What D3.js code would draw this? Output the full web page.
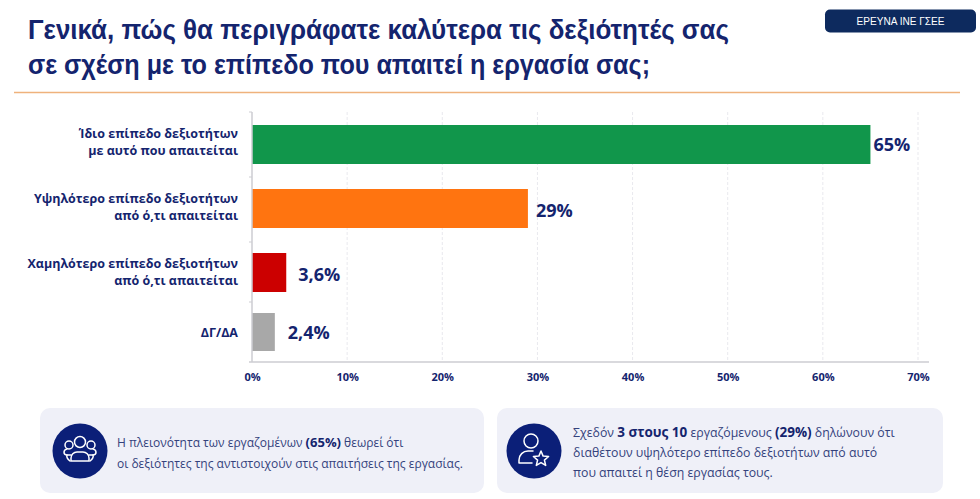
<!DOCTYPE html>
<html lang="el">
<head>
<meta charset="utf-8">
<script src="https://cdn.jsdelivr.net/npm/d3@7"></script>
<style>
html,body{margin:0;padding:0;background:#fff}
svg{display:block}
text{font-family:"Open Sans","Noto Sans",sans-serif}
.title,.badge{font-family:"Liberation Sans",Arial,sans-serif}
</style>
</head>
<body>
<svg id="chart" width="980" height="499"></svg>
<script>
const categories = [
  ["Ίδιο επίπεδο δεξιοτήτων", "με αυτό που απαιτείται"],
  ["Υψηλότερο επίπεδο δεξιοτήτων", "από ό,τι απαιτείται"],
  ["Χαμηλότερο επίπεδο δεξιοτήτων", "από ό,τι απαιτείται"],
  ["ΔΓ/ΔΑ"]
];
const values = [65, 29, 3.6, 2.4];
const valueLabels = ["65%", "29%", "3,6%", "2,4%"];
const barColors = ["#11964b", "#ff7410", "#cc0000", "#a8a8a8"];
const xTicks = [0, 10, 20, 30, 40, 50, 60, 70];
const titleLines = [
  "Γενικά, πώς θα περιγράφατε καλύτερα τις δεξιότητές σας",
  "σε σχέση με το επίπεδο που απαιτεί η εργασία σας;"
];
const badgeText = "ΕΡΕΥΝΑ ΙΝΕ ΓΣΕΕ";
const noteLeft = [
  [["Η πλειονότητα των εργαζομένων ", 0], ["(65%)", 1], [" θεωρεί ότι", 0]],
  [["οι δεξιότητες της αντιστοιχούν στις απαιτήσεις της εργασίας.", 0]]
];
const noteRight = [
  [["Σχεδόν ", 0], ["3 στους 10", 1], [" εργαζόμενους ", 0], ["(29%)", 1], [" δηλώνουν ότι", 0]],
  [["διαθέτουν υψηλότερο επίπεδο δεξιοτήτων από αυτό", 0]],
  [["που απαιτεί η θέση εργασίας τους.", 0]]
];

const navy = "#14246e";
const noteInk = "#34427c";
const svg = d3.select("#chart");

// Header
const titleWidths = [701, 622];
svg.append("g").selectAll("text").data(titleLines).join("text")
  .attr("class", "title")
  .attr("x", 28).attr("y", (d, i) => 39 + i * 35)
  .attr("fill", navy).attr("font-size", 28).attr("font-weight", 700)
  .attr("textLength", (d, i) => titleWidths[i])
  .attr("lengthAdjust", "spacingAndGlyphs")
  .text(d => d);
svg.append("line").attr("x1", 14).attr("x2", 960).attr("y1", 92.5).attr("y2", 92.5)
  .attr("stroke", "#efb27c").attr("stroke-width", 1.6);
svg.append("rect").attr("x", 825).attr("y", 9.5).attr("width", 151).attr("height", 23).attr("rx", 5).attr("fill", "#0d2a5e");
svg.append("text").attr("class", "badge").attr("x", 900.5).attr("y", 25).attr("text-anchor", "middle")
  .attr("fill", "#fff").attr("font-size", 10.5)
  .attr("textLength", 88).attr("lengthAdjust", "spacingAndGlyphs").text(badgeText);

// Plot area
const plotTop = 112, plotBottom = 362;
const x = d3.scaleLinear().domain([0, 70]).range([252, 918]);
const y = d3.scaleOrdinal().domain(d3.range(categories.length)).range([125, 189, 253, 313]);
const barHeight = d3.scaleOrdinal().domain(d3.range(categories.length)).range([39, 39, 39, 38]);

svg.append("g").selectAll("line").data(xTicks.slice(1)).join("line")
  .attr("x1", d => x(d)).attr("x2", d => x(d)).attr("y1", plotTop).attr("y2", plotBottom)
  .attr("stroke", "#e9e9ee").attr("stroke-dasharray", "3,2");

svg.append("g").selectAll("rect").data(values).join("rect")
  .attr("x", x(0)).attr("y", (d, i) => y(i))
  .attr("width", d => x(d) - x(0)).attr("height", (d, i) => barHeight(i))
  .attr("fill", (d, i) => barColors[i]);

const xAxis = d3.axisBottom(x).tickValues(xTicks).tickSize(0).tickPadding(11).tickFormat(d => d + "%");
const gx = svg.append("g").attr("transform", `translate(0,${plotBottom})`).call(xAxis);
gx.select(".domain").remove();
gx.selectAll("text").attr("fill", navy).attr("font-size", 11).attr("font-weight", 700)
  .style("font-family", '"Open Sans","Noto Sans",sans-serif');

const axisInk = "#cdcdd2";
svg.append("line").attr("x1", 249).attr("x2", 929).attr("y1", plotBottom).attr("y2", plotBottom).attr("stroke", axisInk).attr("stroke-width", 1.5);
svg.append("line").attr("x1", 252).attr("x2", 252).attr("y1", plotTop).attr("y2", plotBottom).attr("stroke", axisInk).attr("stroke-width", 1.5);
svg.append("g").selectAll("line").data([112, 177, 242, 302]).join("line")
  .attr("x1", 249).attr("x2", 252).attr("y1", d => d).attr("y2", d => d).attr("stroke", axisInk);

// Category labels, right aligned against the axis
const categoryBaselines = [138, 203, 268, 337];
svg.append("g").selectAll("text").data(categories).join("text")
  .attr("text-anchor", "end").attr("fill", navy).attr("font-size", 12.5).attr("font-weight", 700)
  .each(function (lines, i) {
    d3.select(this).selectAll("tspan").data(lines).join("tspan")
      .attr("x", 238)
      .attr("y", (d, k) => categoryBaselines[i] + k * 16.5)
      .text(d => d);
  });

// Value labels beside each bar
const valueOffsets = [3, 8, 12, 13];
const valueBaselines = [151, 217, 281, 339];
svg.append("g").selectAll("text").data(values).join("text")
  .attr("x", (d, i) => x(d) + valueOffsets[i]).attr("y", (d, i) => valueBaselines[i])
  .attr("fill", navy).attr("font-size", 18).attr("font-weight", 700)
  .text((d, i) => valueLabels[i]);

// Takeaway panels
function panel(px, w, cx, textX, lines, baselines, size, boldSize, icon) {
  const g = svg.append("g");
  g.append("rect").attr("x", px).attr("y", 408).attr("width", w).attr("height", 85).attr("rx", 10).attr("fill", "#eff0f8");
  g.append("circle").attr("cx", cx).attr("cy", 451).attr("r", 27.5).attr("fill", "#0b1f78");
  icon(g.append("g").attr("transform", `translate(${cx},451)`)
    .attr("fill", "none").attr("stroke", "#fff").attr("stroke-width", 1.5).attr("stroke-linejoin", "round").attr("stroke-linecap", "round"));
  g.append("g").selectAll("text").data(lines).join("text")
    .attr("x", textX).attr("y", (d, i) => baselines[i])
    .attr("fill", noteInk)
    .style("white-space", "pre")
    .selectAll("tspan").data(d => d).join("tspan")
    .attr("font-size", d => d[1] ? boldSize : size)
    .attr("font-weight", d => d[1] ? 700 : 400)
    .attr("fill", d => d[1] ? navy : noteInk)
    .text(d => d[0]);
}

function peopleIcon(g) {
  // Two flanking figures behind a central one
  g.append("circle").attr("cx", 0).attr("cy", -9).attr("r", 5.5);
  g.append("circle").attr("cx", -11).attr("cy", -6).attr("r", 4);
  g.append("circle").attr("cx", 11).attr("cy", -6).attr("r", 4);
  g.append("path").attr("d", "M-9,10 v-3 a6,6 0 0 1 6,-6 h6 a6,6 0 0 1 6,6 v3 z");
  g.append("path").attr("d", "M-9,4 h-4 a3,3 0 0 1 -3,-3 a3.5,3.5 0 0 1 3,-3");
  g.append("path").attr("d", "M9,4 h4 a3,3 0 0 0 3,-3 a3.5,3.5 0 0 0 -3,-3");
  g.append("path").attr("d", "M-13,4 q-1,3 3,6 M13,4 q1,3 -3,6");
}

function personStarIcon(g) {
  g.append("circle").attr("cx", -3).attr("cy", -10).attr("r", 7);
  g.append("path").attr("d", "M-15,12 v-3 a9,9 0 0 1 9,-9 h5 M-15,12 h13");
  g.append("path").attr("d", d3.lineRadial().curve(d3.curveLinearClosed)
    .angle((d, i) => i * Math.PI / 5)
    .radius((d, i) => i % 2 ? 3.6 : 8)(d3.range(10)))
    .attr("transform", "translate(7,8)");
}

panel(40, 444, 80, 117, noteLeft, [447, 468], 12, 13, peopleIcon);
panel(497, 446, 534, 573, noteRight, [437, 457, 477], 12.3, 13.5, personStarIcon);
</script>
</body>
</html>
